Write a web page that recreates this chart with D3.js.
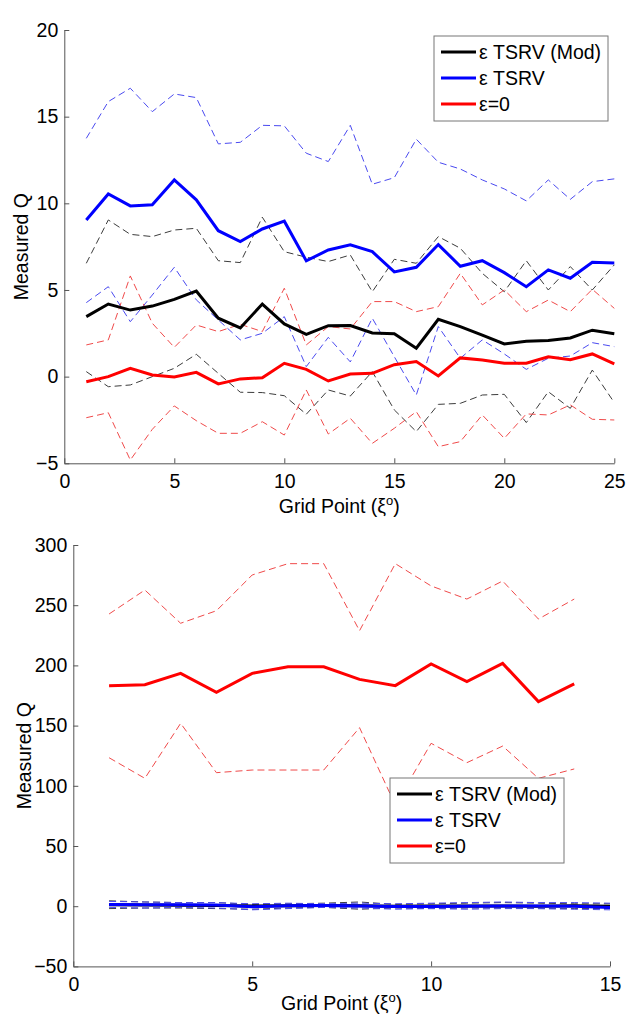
<!DOCTYPE html>
<html><head><meta charset="utf-8">
<script src="https://cdn.jsdelivr.net/npm/d3@7"></script>
<style>
body{margin:0;background:#fff;}
svg text{font-family:"Liberation Sans",Arial,sans-serif;}
</style></head>
<body><svg id="c" width="639" height="1030"></svg>
<script>
// ---------- Top chart data (grid points 1..25) ----------
const topX = d3.range(1, 26);
const topModMean = [3.46,4.19,3.84,4.07,4.46,4.94,3.37,2.81,4.19,3.04,2.44,2.94,2.95,2.52,2.48,1.64,3.31,2.89,2.39,1.89,2.04,2.08,2.23,2.68,2.48];
const topModUp   = [6.54,9.04,8.21,8.08,8.46,8.56,6.69,6.58,9.2,7.21,6.89,6.64,7.02,4.9,6.77,6.54,8.08,7.41,5.96,4.9,6.69,5.0,6.35,5.0,6.45];
const topModLo   = [0.29,-0.58,-0.48,0.0,0.48,1.29,0.19,-0.9,-0.92,-1.1,-2.17,-0.77,-1.12,0.29,-1.92,-3.17,-1.6,-1.54,-1.06,-1.02,-2.65,-0.87,-1.83,0.38,-1.5];
const topTsrvMean = [9.04,10.54,9.85,9.92,11.35,10.2,8.42,7.79,8.52,8.97,6.68,7.31,7.61,7.21,6.04,6.31,7.62,6.37,6.69,6.0,5.19,6.16,5.68,6.6,6.56];
const topTsrvUp   = [13.75,15.87,16.64,15.29,16.31,16.1,13.43,13.52,14.5,14.47,12.89,12.41,14.5,11.1,11.48,13.7,12.37,11.98,11.35,10.83,10.14,11.35,10.23,11.25,11.41];
const topTsrvLo   = [4.27,5.19,3.17,4.71,6.31,4.43,3.27,2.12,2.5,3.46,0.58,2.27,0.85,3.37,1.15,-1.06,2.89,1.06,2.12,1.31,0.42,1.06,1.19,1.96,1.73];
const topZeroMean = [-0.29,0.0,0.48,0.1,-0.02,0.25,-0.42,-0.13,-0.06,0.77,0.42,-0.25,0.15,0.19,0.69,0.87,0.04,1.08,0.96,0.77,0.77,1.14,0.98,1.31,0.73];
const topZeroUp   = [1.83,2.12,5.81,3.08,1.69,2.98,2.6,3.02,2.6,5.1,1.83,2.89,2.75,4.33,4.33,3.75,4.04,5.96,4.14,5.0,3.75,4.42,3.75,5.04,3.94];
const topZeroLo   = [-2.37,-2.08,-4.81,-3.04,-1.69,-2.54,-3.27,-3.27,-2.6,-3.37,-0.77,-3.31,-2.4,-3.85,-2.98,-2.02,-4.04,-3.75,-2.21,-3.56,-2.15,-2.21,-1.63,-2.46,-2.5];
const topYTicks = [-5,0,5,10,15,20];
const topXTicks = [0,5,10,15,20,25];

// ---------- Bottom chart data ----------
const botX15 = d3.range(1, 16);
const botX14 = d3.range(1, 15);
const botModMean = [1.2,1.0,0.8,0.6,0.2,0.4,0.5,0.3,0.0,0.1,0.2,0.1,0.0,0.3,0.0];
const botModUp   = [4.5,3.5,3.0,3.0,1.5,2.0,2.5,3.5,1.5,2.0,2.5,3.0,2.5,2.0,2.0];
const botModLo   = [-2.0,-1.5,-1.5,-2.0,-2.5,-1.5,-1.0,-2.5,-1.5,-2.0,-1.5,-1.5,-2.0,-2.0,-2.0];
const botTsrvMean = [1.5,1.3,1.2,1.0,-0.5,0.3,0.5,0.2,-0.3,-0.2,0.0,0.2,0.1,-0.1,-1.0];
const botTsrvUp   = [4.0,3.5,3.0,3.0,2.0,2.5,2.0,2.5,2.0,2.5,3.0,3.5,3.0,3.0,2.5];
const botTsrvLo   = [-1.0,-1.5,-1.0,-1.5,-3.0,-2.0,-1.0,-1.5,-2.5,-2.0,-2.5,-2.0,-2.0,-2.5,-3.0];
const botZeroMean = [183.2,184.0,193.4,177.6,193.4,198.9,198.9,188.4,183.2,201.2,186.5,201.7,169.9,184.6];
const botZeroUp   = [242.7,262.6,235.0,245.4,275.1,284.5,284.5,228.8,284.5,266.0,255.1,270.1,238.5,255.1];
const botZeroLo   = [123.3,106.2,151.9,110.9,113.1,113.1,113.1,148.3,84.0,135.3,119.2,133.0,106.2,114.0];
const botYTicks = [-50,0,50,100,150,200,250,300];
const botXTicks = [0,5,10,15];

const legendLabels = ["ε TSRV (Mod)", "ε TSRV", "ε=0"];
const solidColors = ["#000000", "#0000ff", "#ff0000"];
const dashColors = ["#3c3c3c", "#4a4af0", "#f04a4a"];

const svg = d3.select("#c");
const FS = 19.5;
const axisColor = "#555";

function fmt(v){ return v < 0 ? "\u2212" + Math.abs(v) : String(v); }

function drawChart(cfg){
  const x = d3.scaleLinear().domain(cfg.xDomain).range(cfg.xRange);
  const y = d3.scaleLinear().domain(cfg.yDomain).range(cfg.yRange);
  const g = svg.append("g");
  const line = d3.line().x(d => x(d[0])).y(d => y(d[1]));

  // dashed bands
  cfg.series.forEach((s, i) => {
    [s.up, s.lo].forEach(arr => {
      g.append("path").datum(s.x.map((xv, k) => [xv, arr[k]]))
        .attr("d", line).attr("fill", "none")
        .attr("stroke", dashColors[i]).attr("stroke-width", 1)
        .attr("stroke-dasharray", "7,4");
    });
  });
  // solid means
  cfg.series.forEach((s, i) => {
    g.append("path").datum(s.x.map((xv, k) => [xv, s.mean[k]]))
      .attr("d", line).attr("fill", "none")
      .attr("stroke", solidColors[i]).attr("stroke-width", 3)
      .attr("stroke-linejoin", "miter");
  });

  // axes
  const xAxis = d3.axisBottom(x).tickValues(cfg.xTicks).tickSizeInner(-5).tickSizeOuter(0).tickPadding(11).tickFormat(fmt);
  const yAxis = d3.axisLeft(y).tickValues(cfg.yTicks).tickSizeInner(-5).tickSizeOuter(0).tickPadding(6).tickFormat(fmt);
  const gx = g.append("g").attr("transform", `translate(0,${cfg.yRange[0]})`).call(xAxis);
  const gy = g.append("g").attr("transform", `translate(${cfg.xRange[0]},0)`).call(yAxis);
  [gx, gy].forEach(a => {
    a.select(".domain").attr("stroke", axisColor);
    a.selectAll(".tick line").attr("stroke", axisColor);
    a.selectAll(".tick text").attr("font-size", FS).attr("fill", "#000")
      .attr("font-family", '"Liberation Sans",Arial,sans-serif');
  });

  // axis titles
  const xt = g.append("text").attr("x", (cfg.xRange[0] + cfg.xRange[1]) / 2).attr("y", cfg.xTitleY)
    .attr("text-anchor", "middle").attr("font-size", FS);
  xt.append("tspan").text("Grid Point (ξ");
  xt.append("tspan").attr("font-size", 13).attr("dy", -8).text("o");
  xt.append("tspan").attr("dy", 8).text(")");

  g.append("text").attr("transform", `translate(${cfg.yTitleX},${(cfg.yRange[0] + cfg.yRange[1]) / 2}) rotate(-90)`)
    .attr("text-anchor", "middle").attr("font-size", FS).text("Measured Q");

  // legend
  const L = cfg.legend;
  g.append("rect").attr("x", L.x).attr("y", L.y).attr("width", 174).attr("height", 85)
    .attr("fill", "#fff").attr("stroke", "#777").attr("stroke-width", 1);
  legendLabels.forEach((lab, i) => {
    const yy = L.y + 16 + i * 26;
    g.append("line").attr("x1", L.x + 7).attr("x2", L.x + 42).attr("y1", yy).attr("y2", yy)
      .attr("stroke", solidColors[i]).attr("stroke-width", 3);
    g.append("text").attr("x", L.x + 45).attr("y", yy).attr("dy", "0.36em")
      .attr("font-size", FS).text(lab);
  });
}

drawChart({
  xDomain:[0,25], xRange:[64.3,614.3], yDomain:[-5,20], yRange:[463.3,30],
  xTicks: topXTicks, yTicks: topYTicks, xTitleY: 513, yTitleX: 28,
  legend:{x:434, y:36},
  series:[
    {x: topX, mean: topModMean, up: topModUp, lo: topModLo},
    {x: topX, mean: topTsrvMean, up: topTsrvUp, lo: topTsrvLo},
    {x: topX, mean: topZeroMean, up: topZeroUp, lo: topZeroLo}
  ]
});

drawChart({
  xDomain:[0,15], xRange:[73.3,610], yDomain:[-50,300], yRange:[966.4,545],
  xTicks: botXTicks, yTicks: botYTicks, xTitleY: 1010, yTitleX: 31,
  legend:{x:390, y:778},
  series:[
    {x: botX15, mean: botModMean, up: botModUp, lo: botModLo},
    {x: botX15, mean: botTsrvMean, up: botTsrvUp, lo: botTsrvLo},
    {x: botX14, mean: botZeroMean, up: botZeroUp, lo: botZeroLo}
  ]
});
</script></body></html>
